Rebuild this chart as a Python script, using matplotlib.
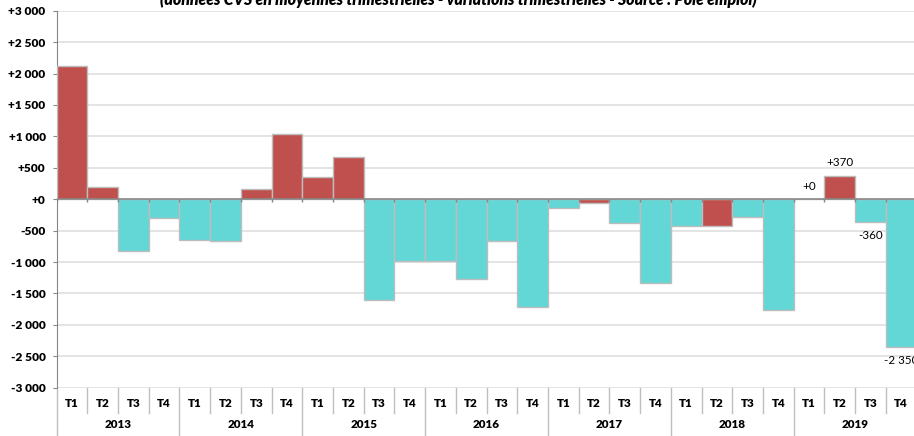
import numpy as np
import matplotlib
matplotlib.use("Agg")
import matplotlib.pyplot as plt
from matplotlib.ticker import FuncFormatter, MultipleLocator
import matplotlib.transforms as mtransforms

plt.rcParams['font.family'] = ['Lato', 'DejaVu Sans']

# quarterly variations (CVS), 2013 T1 -> 2019 T4
years = ['2013', '2014', '2015', '2016', '2017', '2018', '2019']
quarters = ['T1', 'T2', 'T3', 'T4']
values = [2120, 200, -830, -300,
          -650, -670, 170, 1030,
          355, 665, -1600, -980,
          -980, -1270, -660, -1720,
          -140, -60, -380, -1340,
          -430, -430, -280, -1770,
          0, 370, -360, -2350]
# 'r' = red bar, 'c' = cyan bar (as coloured in the source)
bar_kind = ['r', 'r', 'c', 'c',
            'c', 'c', 'r', 'r',
            'r', 'r', 'c', 'c',
            'c', 'c', 'c', 'c',
            'c', 'r', 'c', 'c',
            'c', 'r', 'c', 'c',
            'c', 'r', 'c', 'c']
# labelled points of the last year
labels_2019 = ['+0', '+370', '-360', '-2 350']

red = '#C0504D'
cyan = '#63D6D6'
grey = '#868686'

fig = plt.figure(figsize=(9.14, 4.36), dpi=100)
ax = fig.add_axes([0.062, 0.1108, 0.9407, 0.8647])

x = np.arange(len(values))
colors = [red if k == 'r' else cyan for k in bar_kind]
ax.bar(x, values, width=1.0, color=colors, edgecolor='#BDBDBD', linewidth=1.0, zorder=3)

ax.set_xlim(-0.5, len(values) - 0.5)
ax.set_ylim(-3000, 3000)
ax.yaxis.set_major_locator(MultipleLocator(500))
ax.yaxis.set_major_formatter(FuncFormatter(lambda v, p: f"{v:+,.0f}".replace(',', ' ')))
ax.yaxis.grid(True, color='#E2E2E2', linewidth=1.3, zorder=0)
ax.set_axisbelow(True)
for s in ['top', 'right', 'bottom']:
    ax.spines[s].set_visible(False)
ax.spines['left'].set_color(grey)
ax.tick_params(axis='y', length=3, color=grey, labelsize=8.6, pad=5)
for t in ax.get_yticklabels():
    t.set_fontweight('heavy')
ax.set_xticks([])

# zero line with small ticks between bars
ax.axhline(0, color=grey, linewidth=1.1, zorder=4)
bounds = np.arange(len(values) + 1) - 0.5
ax.vlines(bounds, -45, 0, color=grey, linewidth=1.0, zorder=4)

# multi-level category axis under the plot
tr = mtransforms.blended_transform_factory(ax.transData, ax.transAxes)
for i, b in enumerate(bounds):
    y_end = -0.135 if i % 4 == 0 else -0.067
    ax.plot([b, b], [0, y_end], color='#BFBFBF', linewidth=1.0, transform=tr, clip_on=False)
for i in range(len(values)):
    ax.text(i, -0.043, quarters[i % 4], transform=tr, ha='center', va='center',
            fontsize=8.4, fontweight='heavy')
for j, yr in enumerate(years):
    ax.text(4 * j + 1.5, -0.097, yr, transform=tr, ha='center', va='center',
            fontsize=8.4, fontweight='heavy')

# value labels for 2019
for k, lab in enumerate(labels_2019):
    i = 24 + k
    v = values[i]
    if k == 0:
        ax.annotate(lab, (i, v), xytext=(0, 9), textcoords='offset points',
                    ha='center', va='center', fontsize=8.4)
    elif v > 0:
        ax.annotate(lab, (i, v), xytext=(0, 6), textcoords='offset points',
                    ha='center', va='bottom', fontsize=8.4)
    else:
        ax.annotate(lab, (i, v), xytext=(0, -6), textcoords='offset points',
                    ha='center', va='top', fontsize=8.4)

fig.text(0.502, 1 - 5.5 / 436,
         "(données CVS en moyennes trimestrielles - variations trimestrielles - Source : Pôle emploi)",
         ha='center', va='baseline', fontsize=11.3, fontweight='heavy', fontstyle='italic')

fig.savefig('out.png', dpi=100)
